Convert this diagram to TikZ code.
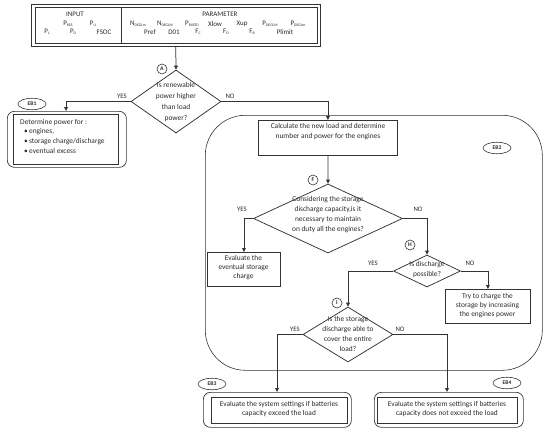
\documentclass[tikz,border=0pt]{standalone}
\usepackage{fontspec}
\setmainfont{Carlito}
\usetikzlibrary{shapes.geometric,arrows.meta}
\definecolor{ln}{HTML}{333333}
\definecolor{tx}{HTML}{2A2A2A}
\newcommand\sbs[1]{\raisebox{-0.9pt}{\fontsize{3.8}{4}\selectfont #1}}
\begin{document}
\begin{tikzpicture}[x=1pt,y=-1pt,
  every node/.style={font=\fontsize{7.4}{10}\selectfont, text=tx, inner sep=0pt},
  frame/.style={draw=ln, line width=0.8pt, anchor=north west},
  rframe/.style={draw=ln, line width=0.7pt, rounded corners=7pt, anchor=north west},
  dec/.style={shape=diamond, draw=ln, line width=0.75pt},
  conn/.style={draw=ln, line width=0.75pt, -{Triangle[length=4pt,width=3.8pt]}},
  yn/.style={font=\fontsize{6.8}{7}\selectfont},
  tag/.style={ellipse, draw=ln, line width=0.6pt, minimum width=28pt, minimum height=11.5pt, font=\fontsize{5.6}{6}\selectfont\bfseries},
  letter/.style={circle, draw=ln, line width=0.6pt, minimum size=10pt, font=\fontsize{5.8}{6}\selectfont\bfseries},
  hd/.style={font=\fontsize{7}{7}\selectfont}
]
\useasboundingbox (0,0) rectangle (550,431);

% header
\node[frame, line width=0.5pt, minimum width=289pt, minimum height=42pt] (hdr) at (31,4) {};
\node[frame, line width=0.9pt, minimum width=282pt, minimum height=36pt] (hdrin) at (35,7) {};
\draw[ln, line width=0.6pt] (121,7) -- (121,43);
\node[hd] (tin) at (75,14) {INPUT};
\node[hd] (tpres) at (68,24) {P\sbs{RES}};
\node[hd] (tpu) at (93,24) {P\sbs{U}};
\node[hd] (tpl) at (47,32) {P\sbs{L}};
\node[hd] (tpd) at (73,32) {P\sbs{D}};
\node[hd] (tfsoc) at (104,32) {FSOC};
\node[hd] (tpar) at (220,14) {PARAMETER};
\node[hd] (tn1) at (138,24) {N\sbs{DEGLm}};
\node[hd] (tn2) at (165,24) {N\sbs{DEGLM}};
\node[hd] (tprat) at (192,24) {P\sbs{RATED}};
\node[hd] (txlow) at (215,24) {Xlow};
\node[hd] (txup) at (242,24) {Xup};
\node[hd] (tp1) at (270,24) {P\sbs{DEGLM}};
\node[hd] (tp2) at (298,24) {P\sbs{DEGLm}};
\node[hd] (tpref) at (150,32) {Pref};
\node[hd] (td01) at (174,32) {D01};
\node[hd] (tfc) at (198,32) {F\sbs{C}};
\node[hd] (tfd) at (226,32) {F\sbs{D}};
\node[hd] (tfb) at (252,32) {F\sbs{B}};
\node[hd] (tplim) at (285,32) {Plimit};

% decision A
\node[dec, minimum width=90pt, minimum height=63pt] (dA) at (176,101.5) {};
\node[align=center, font=\fontsize{7.4}{11}\selectfont] (tA) at (176,102) {Is renewable\\power higher\\than load\\power?};
\node[letter] (lA) at (162,69) {A};
\draw[conn] (hdr.south) -- (dA.north);

% EB1
\node[rframe, minimum width=119pt, minimum height=56pt] (eb1o) at (7,111) {};
\node[frame, minimum width=105pt, minimum height=50pt] (eb1i) at (13,114) {};
\node[tag] (eb1t) at (32,104) {EB1};
\node[align=left, anchor=north west, font=\fontsize{7.4}{9.6}\selectfont] (teb1) at (20,119)
  {Determine power for :\\\hspace{4pt}•\,engines,\\\hspace{4pt}•\,storage charge/discharge\\\hspace{4pt}•\,eventual excess};
\draw[conn] (dA.west) -| (66,0 |- eb1o.north);
\node[yn] (yA) at (122,96) {YES};
\node[yn] (nA) at (230,96) {NO};

% EB2
\node[draw=ln, line width=0.6pt, rounded corners=40pt, minimum width=337pt, minimum height=255pt, anchor=north west] (eb2) at (205,115) {};
\node[tag] (eb2t) at (497,148) {EB2};
\node[frame, minimum width=139pt, minimum height=35pt] (calc) at (258,120) {};
\node[align=center] (tcalc) at (328,131.5) {Calculate the new load and determine\\number and power for the engines};
\draw[conn] (dA.east) -| (calc.north);

\node[dec, minimum width=149pt, minimum height=69pt] (dF) at (328,218.5) {};
\node[align=center] (tF) at (328,214.5) {Considering the storage\\discharge capacity,is it\\necessary to maintain\\on duty all the engines?};
\node[letter] (lF) at (313,180) {F};
\draw[conn] (calc.south) -- (dF.north);

\node[frame, minimum width=73pt, minimum height=34pt] (evc) at (207,252) {};
\node[align=center, font=\fontsize{7.4}{9}\selectfont] (tevc) at (243.5,267.5) {Evaluate the\\eventual storage\\charge};
\draw[conn] (dF.west) -| (evc.north);
\node[yn] (yF) at (242,209) {YES};
\node[yn] (nF) at (418,209) {NO};

\node[dec, minimum width=67pt, minimum height=32pt] (dH) at (427,271) {};
\node[align=center] (tH) at (427,269.5) {Is discharge\\possible?};
\node[letter] (lH) at (410,245) {H};
\draw[conn] (dF.east) -| (dH.north);

\node[frame, minimum width=85pt, minimum height=34pt] (try) at (445,289) {};
\node[align=center, font=\fontsize{7.4}{9}\selectfont] (ttry) at (487.5,305.5) {Try to charge the\\storage by increasing\\the engines power};
\draw[conn] (dH.east) -| (try.north);
\node[yn] (yH) at (373,263) {YES};
\node[yn] (nH) at (470,263) {NO};

\node[dec, minimum width=90pt, minimum height=55pt] (dI) at (348,334.5) {};
\node[align=center] (tI) at (348,333.5) {Is the storage\\discharge able to\\cover the entire\\load?};
\node[letter] (lI) at (337,303) {I};
\draw[conn] (dH.west) -| (dI.north);
\node[yn] (yI) at (295,329) {YES};
\node[yn] (nI) at (400,329) {NO};

% EB3
\node[rframe, minimum width=148pt, minimum height=35pt] (eb3o) at (203,392) {};
\node[frame, minimum width=136pt, minimum height=26pt] (eb3i) at (211,397) {};
\node[tag] (eb3t) at (212,384) {EB3};
\node[align=center, font=\fontsize{7.4}{8.5}\selectfont] (teb3) at (279,409) {Evaluate the system settings if batteries\\capacity exceed the load};
\draw[conn] (dI.west) -| (277,0 |- eb3o.north);

% EB4
\node[rframe, minimum width=149pt, minimum height=35pt] (eb4o) at (374,392) {};
\node[frame, minimum width=140pt, minimum height=26pt] (eb4i) at (377,397) {};
\node[tag] (eb4t) at (507,383) {EB4};
\node[align=center, font=\fontsize{7.4}{8.5}\selectfont] (teb4) at (447,409) {Evaluate the system settings if batteries\\capacity does not exceed the load};
\draw[conn] (dI.east) -| (447,0 |- eb4o.north);
\end{tikzpicture}
\end{document}
